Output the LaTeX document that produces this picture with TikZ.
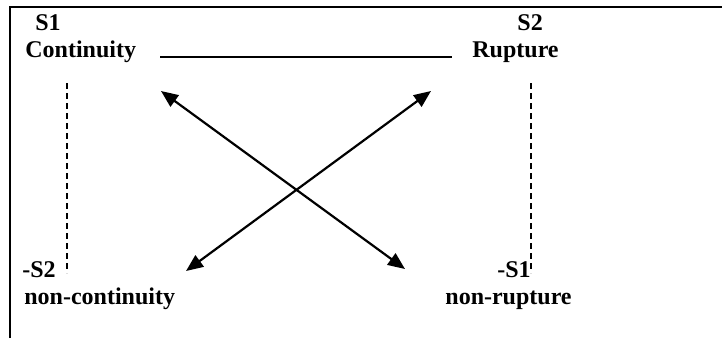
\documentclass[tikz,border=0pt]{standalone}
\usepackage{fontspec}
\setmainfont{Liberation Serif}
\usetikzlibrary{positioning, arrows.meta}

\begin{document}
\begin{tikzpicture}[
    x=0.5pt, y=-0.5pt,      % one unit = one pixel of the reference
    >={Triangle[length=8.5pt, width=7pt]},
    font=\fontsize{12}{14}\selectfont\bfseries,
    % text label at its baseline
    label_txt/.style={anchor=base west, inner sep=0pt},
    frame_line/.style={line width=1.2pt},
    side_line/.style={line width=0.65pt, dash pattern=on 3pt off 2pt},
    cross_arrow/.style={<->, line width=1.1pt}
]
    \useasboundingbox (0,0) rectangle (722,338);

    % --- frame (only top and left edge visible) ---
    \draw [frame_line] (10,338) -- (10,7) -- (722,7);

    % --- upper pair ---
    \node [label_txt] (s1)   at (35,30)  {S1};
    \node [label_txt] (cont) at (25,57)  {Continuity};
    \node [label_txt] (s2)   at (517,30) {S2};
    \node [label_txt] (rupt) at (472,57) {Rupture};

    % --- lower pair ---
    \node [label_txt] (ns2)     at (22,277)  {-S2};
    \node [label_txt] (noncont) at (24,304)  {non-continuity};
    \node [label_txt] (ns1)     at (497,277) {-S1};
    \node [label_txt] (nonrupt) at (445,304) {non-rupture};

    % contrariety line between S1 and S2
    \coordinate (topL) at (160,57);
    \coordinate (topR) at (452,57);
    \draw [line width=0.8pt] (topL) -- (topR);

    % implication lines (dashed)
    \coordinate (leftT)  at (67,83);
    \coordinate (leftB)  at (67,273);
    \coordinate (rightT) at (531,83);
    \coordinate (rightB) at (531,273);
    \draw [side_line] (leftT) -- (leftB);
    \draw [side_line] (rightT) -- (rightB);

    % contradiction arrows
    \coordinate (aTL) at (161,91);
    \coordinate (aBR) at (405,269);
    \coordinate (aTR) at (431,91);
    \coordinate (aBL) at (186,271);
    \draw [cross_arrow] (aTL) -- (aBR);
    \draw [cross_arrow] (aTR) -- (aBL);

\end{tikzpicture}
\end{document}
